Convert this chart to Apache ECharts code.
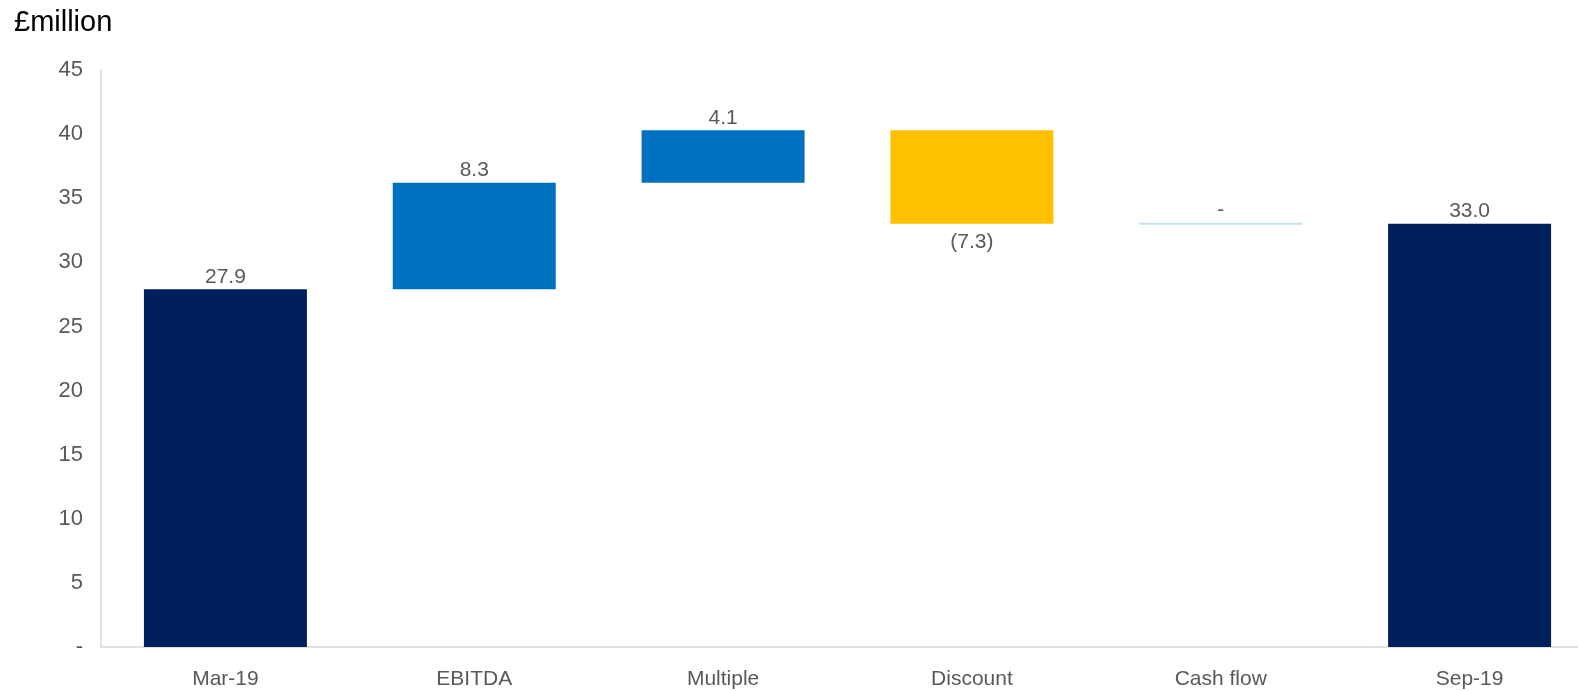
<!DOCTYPE html>
<html>
<head>
<meta charset="utf-8">
<script src="https://cdn.jsdelivr.net/npm/echarts@6/dist/echarts.min.js"></script>
<style>
html,body{margin:0;padding:0;background:#fff;}
#c{width:1578px;height:691px;}
</style>
</head>
<body>
<div id="c"></div>
<script>
const categories = ['Mar-19', 'EBITDA', 'Multiple', 'Discount', 'Cash flow', 'Sep-19'];
const changes = [27.9, 8.3, 4.1, -7.3, 0, 33.0];
const isTotal = [true, false, false, false, false, true];
const barColors = ['#00205C', '#0070C0', '#0070C0', '#FFC000', '#C4E4EA', '#00205C'];
const yTicks = [0, 5, 10, 15, 20, 25, 30, 35, 40, 45];

// build waterfall base/visible arrays from the values
const baseVals = [];
const visVals = [];
let running = 0;
changes.forEach((v, i) => {
  if (isTotal[i]) {
    baseVals.push(0);
    visVals.push(v);
    running = v;
  } else if (v >= 0) {
    baseVals.push(running);
    visVals.push(v);
    running += v;
  } else {
    running += v;
    baseVals.push(running);
    visVals.push(-v);
  }
});

const fmt = v => v === 0 ? '-' : (v < 0 ? '(' + Math.abs(v).toFixed(1) + ')' : v.toFixed(1));

const labelStyle = { color: '#595959', fontSize: 21, fontFamily: 'Liberation Sans, Arial, sans-serif' };

const chart = echarts.init(document.getElementById('c'), null, { renderer: 'canvas' });
chart.setOption({
  animation: false,
  backgroundColor: '#fff',
  title: {
    text: '£million',
    left: 9, top: 3,
    textStyle: { color: '#000', fontSize: 29, fontWeight: 'normal', fontFamily: 'Liberation Sans, Arial, sans-serif' }
  },
  grid: { left: 101, top: 70, width: 1493, height: 577, containLabel: false, outerBoundsMode: 'none' },
  xAxis: {
    type: 'category',
    data: categories,
    axisLine: { show: true, lineStyle: { color: '#D9D9D9', width: 1.5 } },
    axisTick: { show: false },
    axisLabel: { margin: 22, ...labelStyle, fontSize: 21 },
    splitLine: { show: false }
  },
  yAxis: {
    type: 'value',
    min: 0, max: 45, interval: 5,
    axisLine: { show: true, lineStyle: { color: '#D9D9D9', width: 1.5 } },
    axisTick: { show: false },
    splitLine: { show: false },
    axisLabel: {
      margin: 18, ...labelStyle, fontSize: 22,
      formatter: v => yTicks.includes(v) ? (v === 0 ? '-' : String(v)) : ''
    }
  },
  series: [
    {
      type: 'bar', stack: 'wf', barWidth: 163,
      data: baseVals,
      itemStyle: { color: 'transparent' },
      emphasis: { disabled: true },
      silent: true
    },
    {
      type: 'bar', stack: 'wf', barWidth: 163,
      data: visVals.map((v, i) => ({
        value: v,
        itemStyle: changes[i] === 0
          ? { color: barColors[i], borderColor: barColors[i], borderWidth: 2 }
          : { color: barColors[i] },
        label: {
          show: true,
          position: changes[i] < 0 ? 'bottom' : 'top',
          distance: changes[i] < 0 ? 8 : 2,
          formatter: () => fmt(changes[i]),
          ...labelStyle
        }
      })),
      emphasis: { disabled: true }
    }
  ]
});
</script>
</body>
</html>
